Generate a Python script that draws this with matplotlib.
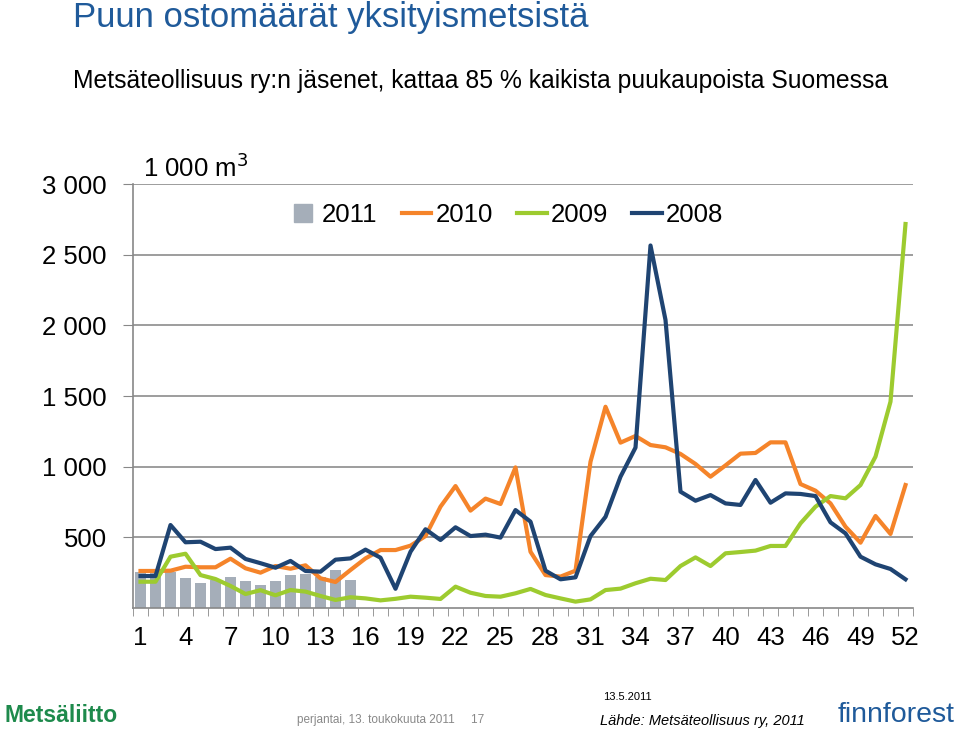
import matplotlib
matplotlib.use("Agg")
import matplotlib.pyplot as plt
from matplotlib.lines import Line2D
import numpy as np

plt.rcParams['font.family'] = ['Liberation Sans', 'DejaVu Sans']

weeks = list(range(1, 53))
y2011 = [255, 245, 255, 215, 177, 198, 219, 192, 161, 193, 231, 244, 222, 267, 199]
y2010 = [262, 262, 264, 292, 288, 288, 349, 281, 250, 297, 278, 302, 210, 184, 269, 351,
         410, 410, 441, 509, 717, 863, 689, 774, 736, 995, 398, 233, 222, 264, 1035, 1424,
         1170, 1217, 1153, 1137, 1090, 1019, 929, 1009, 1092, 1097, 1172, 1172, 877, 830,
         740, 575, 462, 651, 524, 870]
y2009 = [186, 186, 363, 384, 233, 205, 156, 99, 126, 90, 127, 116, 85, 57, 76, 68,
         54, 65, 80, 73, 64, 151, 108, 85, 80, 104, 135, 92, 68, 45, 61, 127,
         137, 175, 207, 198, 297, 358, 297, 387, 396, 406, 439, 439, 599, 717,
         792, 776, 870, 1071, 1460, 2717]
y2008 = [226, 226, 587, 465, 469, 417, 427, 347, 317, 285, 333, 262, 257, 342, 351, 413,
         356, 136, 398, 557, 481, 571, 509, 519, 498, 693, 611, 264, 203, 217, 509, 645,
         929, 1135, 2565, 2038, 823, 759, 799, 740, 729, 906, 745, 811, 807, 792,
         606, 528, 363, 309, 276, 203]
xtick_weeks = list(range(1, 53, 3))
ytick_vals = [500, 1000, 1500, 2000, 2500, 3000]
ytick_labels = ['500', '1 000', '1 500', '2 000', '2 500', '3 000']

c2011 = '#A5AEB9'
c2010 = '#F5842A'
c2009 = '#9DCB2F'
c2008 = '#1F4472'

FS = 18.5

fig = plt.figure(figsize=(9.6, 7.32), dpi=100)
ax = fig.add_axes([133/960, 1-608/732, (913-133)/960, (608-184)/732])

ax.bar(weeks[:len(y2011)], y2011, width=0.67, color=c2011, zorder=2)
ax.plot(weeks, y2010, color=c2010, lw=3, zorder=3)
ax.plot(weeks, y2009, color=c2009, lw=3, zorder=3)
ax.plot(weeks, y2008, color=c2008, lw=3, zorder=4)

ax.set_xlim(0.5, 52.5)
ax.set_ylim(0, 3000)
ax.set_yticks(ytick_vals)
ax.set_yticklabels(ytick_labels, fontsize=FS)
ax.set_xticks(xtick_weeks)
ax.set_xticklabels([str(w) for w in xtick_weeks], fontsize=FS)
ax.set_xticks(np.arange(0.5, 53, 1), minor=True)
ax.tick_params(axis='x', which='major', length=0, pad=13)
ax.tick_params(axis='x', which='minor', length=6, color='#888888', direction='out')
ax.tick_params(axis='y', length=7, color='#888888', pad=12)
ax.grid(axis='y', color='#8c8c8c', lw=1.2, zorder=0)
ax.set_axisbelow(True)
for s in ['top', 'right']:
    ax.spines[s].set_visible(False)
for s in ['left', 'bottom']:
    ax.spines[s].set_color('#888888')
    ax.spines[s].set_linewidth(1.2)

handles = [
    Line2D([], [], marker='s', markersize=13, linestyle='none', color=c2011),
    Line2D([], [], color=c2010, lw=3),
    Line2D([], [], color=c2009, lw=3),
    Line2D([], [], color=c2008, lw=3),
]
ax.legend(handles, ['2011', '2010', '2009', '2008'], loc='center',
          bbox_to_anchor=(0.478, 0.927), ncol=4, frameon=False,
          fontsize=FS, handlelength=1.15, handletextpad=0.15, columnspacing=0.95)

fig.text(143/960, 1-168/732, '1 000 m$^3$', fontsize=FS, va='center', ha='left')

fig.text(73/960, 1-27/732, 'Puun ostomäärät yksityismetsistä', fontsize=25, color='#1F5A9A',
         va='baseline', ha='left')
fig.text(73/960, 1-88/732, 'Metsäteollisuus ry:n jäsenet, kattaa 85 % kaikista puukaupoista Suomessa',
         fontsize=17.8, color='black', va='baseline', ha='left')

fig.text(5/960, 1-715/732, 'Metsäliitto', fontsize=16.5, color='#1E8A4C', fontweight='bold',
         va='center', ha='left')
fig.text(297/960, 1-720/732, 'perjantai, 13. toukokuuta 2011     17', fontsize=8.5, color='#888888',
         va='center', ha='left')
fig.text(603/960, 1-697/732, '13.5.2011', fontsize=8, color='black', va='center', ha='left')
fig.text(600/960, 1-721/732, 'Lähde: Metsäteollisuus ry, 2011', fontsize=10.5, style='italic',
         color='black', va='center', ha='left')
fig.text(838/960, 1-715/732, 'finnforest', fontsize=20.5, color='#1F5A9A', va='center', ha='left')

fig.savefig('out.png', dpi=100)
